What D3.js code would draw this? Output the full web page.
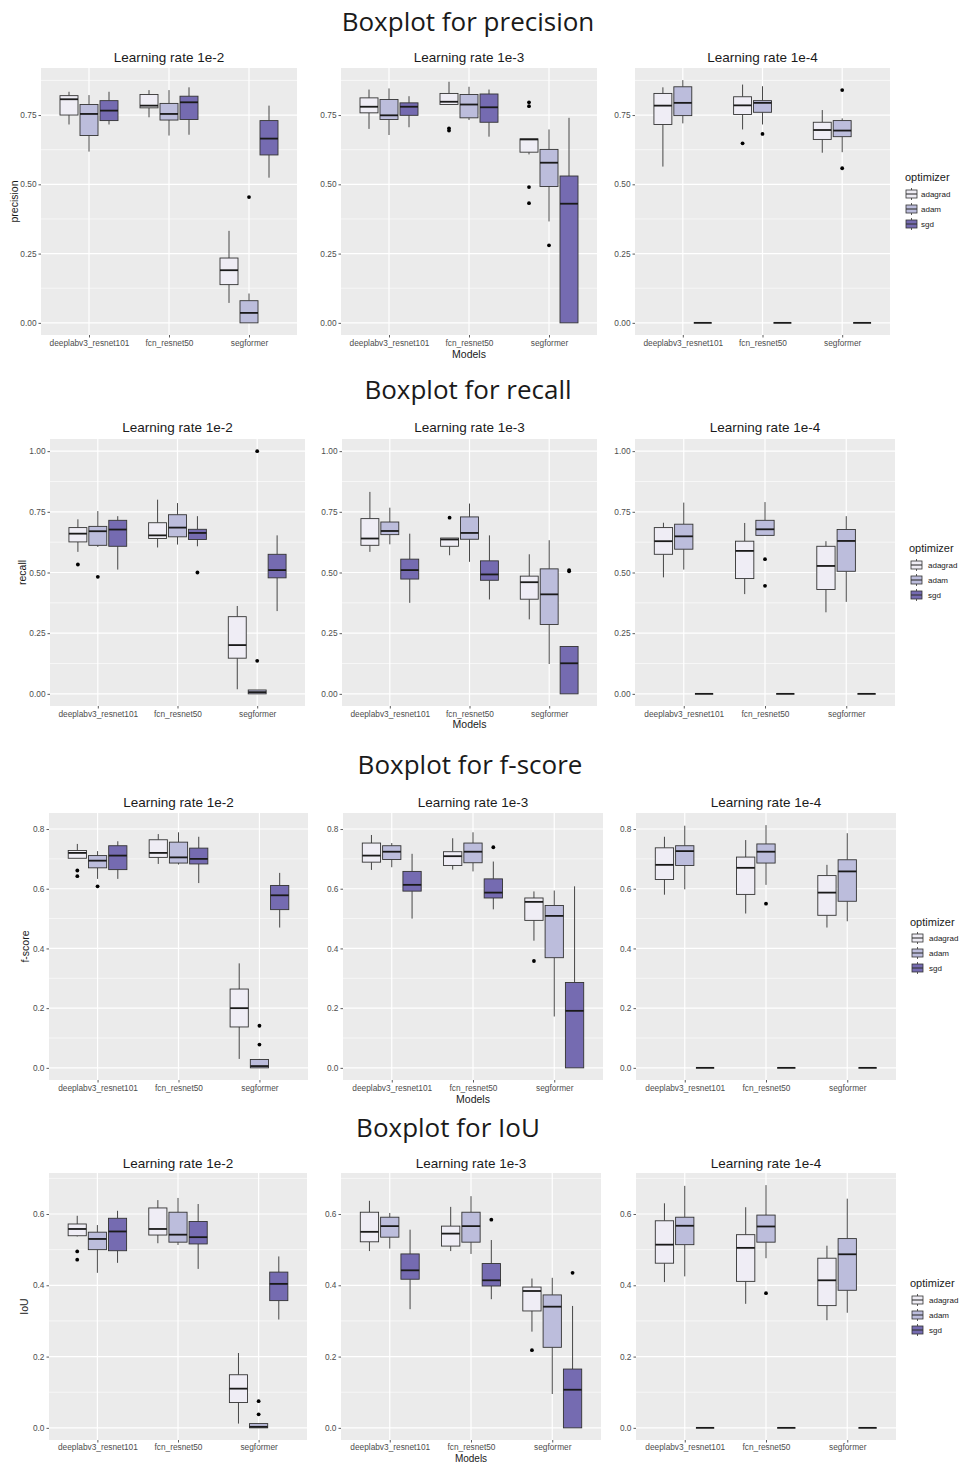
<!DOCTYPE html>
<html>
<head>
<meta charset="utf-8">
<script src="https://cdn.jsdelivr.net/npm/d3@7"></script>
<style>
  body { margin: 0; background: #ffffff; }
  text { font-family: "Liberation Sans", Arial, sans-serif; }
  .main-title { font-family: "Open Sans", "Liberation Sans", sans-serif; }
</style>
</head>
<body>
<svg id="chart" width="961" height="1463"></svg>
<script>
// ---- categories -------------------------------------------------------
const models = ["deeplabv3_resnet101", "fcn_resnet50", "segformer"];
const optimizers = ["adagrad", "adam", "sgd"];
const learningRates = ["1e-2", "1e-3", "1e-4"];
const optimizerColors = ["#efedf5", "#bcbddc", "#756bb1"];

// ---- y tick values per metric ----------------------------------------
const precisionTicks = [0, 0.25, 0.5, 0.75];
const recallTicks = [0, 0.25, 0.5, 0.75, 1.0];
const fscoreTicks = [0, 0.2, 0.4, 0.6, 0.8];
const iouTicks = [0, 0.2, 0.4, 0.6];

// ---- box summaries ---------------------------------------------------
// each entry: [lower whisker, Q1, median, Q3, upper whisker, outliers]
// nine entries per learning rate: model by model, optimizers adagrad/adam/sgd
const precision1e2 = [
  [0.716, 0.750, 0.807, 0.820, 0.834, []],
  [0.618, 0.676, 0.754, 0.788, 0.822, []],
  [0.716, 0.730, 0.766, 0.802, 0.834, []],
  [0.742, 0.776, 0.784, 0.824, 0.840, []],
  [0.676, 0.732, 0.754, 0.792, 0.840, []],
  [0.679, 0.734, 0.796, 0.818, 0.850, []],
  [0.072, 0.138, 0.190, 0.234, 0.332, []],
  [0.000, 0.000, 0.036, 0.080, 0.106, [0.454]],
  [0.524, 0.606, 0.665, 0.730, 0.784, []]
];
const precision1e3 = [
  [0.700, 0.758, 0.780, 0.812, 0.842, []],
  [0.678, 0.734, 0.749, 0.806, 0.846, []],
  [0.706, 0.749, 0.780, 0.794, 0.818, []],
  [0.788, 0.788, 0.798, 0.828, 0.870, [0.702, 0.694]],
  [0.732, 0.740, 0.788, 0.824, 0.852, []],
  [0.672, 0.724, 0.778, 0.826, 0.842, []],
  [0.608, 0.616, 0.662, 0.664, 0.664, [0.796, 0.782, 0.490, 0.432]],
  [0.366, 0.492, 0.578, 0.626, 0.698, [0.280]],
  [0.000, 0.000, 0.430, 0.530, 0.740, []]
];
const precision1e4 = [
  [0.564, 0.716, 0.784, 0.828, 0.850, []],
  [0.720, 0.748, 0.794, 0.852, 0.876, []],
  [0, 0, 0, 0, 0, []],
  [0.698, 0.752, 0.785, 0.816, 0.860, [0.648]],
  [0.716, 0.760, 0.794, 0.802, 0.854, [0.682]],
  [0, 0, 0, 0, 0, []],
  [0.614, 0.662, 0.696, 0.724, 0.768, []],
  [0.616, 0.672, 0.694, 0.730, 0.738, [0.840, 0.558]],
  [0, 0, 0, 0, 0, []]
];

const recall1e2 = [
  [0.585, 0.626, 0.660, 0.685, 0.719, [0.533]],
  [0.605, 0.612, 0.670, 0.690, 0.753, [0.482]],
  [0.512, 0.608, 0.677, 0.715, 0.732, []],
  [0.603, 0.640, 0.653, 0.705, 0.800, []],
  [0.615, 0.647, 0.685, 0.738, 0.786, []],
  [0.608, 0.636, 0.663, 0.678, 0.732, [0.500]],
  [0.019, 0.147, 0.201, 0.318, 0.362, []],
  [0.000, 0.000, 0.007, 0.016, 0.016, [1.000, 0.136]],
  [0.341, 0.478, 0.510, 0.575, 0.653, []]
];
const recall1e3 = [
  [0.585, 0.612, 0.640, 0.722, 0.832, []],
  [0.616, 0.656, 0.671, 0.708, 0.767, []],
  [0.375, 0.473, 0.510, 0.555, 0.660, []],
  [0.571, 0.608, 0.636, 0.642, 0.642, [0.726]],
  [0.544, 0.637, 0.663, 0.729, 0.784, []],
  [0.389, 0.468, 0.492, 0.548, 0.653, []],
  [0.307, 0.390, 0.460, 0.485, 0.575, []],
  [0.123, 0.286, 0.410, 0.515, 0.633, []],
  [0.000, 0.000, 0.126, 0.195, 0.195, [0.510, 0.505]]
];
const recall1e4 = [
  [0.480, 0.575, 0.629, 0.685, 0.705, []],
  [0.512, 0.596, 0.649, 0.699, 0.788, []],
  [0, 0, 0, 0, 0, []],
  [0.411, 0.475, 0.589, 0.629, 0.704, []],
  [0.653, 0.653, 0.678, 0.715, 0.790, [0.555, 0.445]],
  [0, 0, 0, 0, 0, []],
  [0.336, 0.430, 0.527, 0.608, 0.629, []],
  [0.379, 0.505, 0.630, 0.677, 0.732, []],
  [0, 0, 0, 0, 0, []]
];

const fscore1e2 = [
  [0.702, 0.702, 0.720, 0.728, 0.750, [0.661, 0.642]],
  [0.633, 0.670, 0.694, 0.711, 0.726, [0.608]],
  [0.633, 0.664, 0.711, 0.744, 0.759, []],
  [0.683, 0.705, 0.720, 0.764, 0.783, []],
  [0.681, 0.686, 0.705, 0.756, 0.789, []],
  [0.619, 0.683, 0.700, 0.736, 0.774, []],
  [0.030, 0.137, 0.200, 0.264, 0.350, []],
  [0.000, 0.000, 0.006, 0.028, 0.030, [0.141, 0.078]],
  [0.470, 0.530, 0.578, 0.611, 0.653, []]
];
const fscore1e3 = [
  [0.663, 0.689, 0.711, 0.753, 0.780, []],
  [0.672, 0.698, 0.724, 0.744, 0.753, []],
  [0.500, 0.592, 0.613, 0.658, 0.717, []],
  [0.664, 0.678, 0.709, 0.724, 0.769, []],
  [0.658, 0.687, 0.724, 0.753, 0.789, []],
  [0.531, 0.569, 0.587, 0.633, 0.691, [0.739]],
  [0.426, 0.494, 0.556, 0.569, 0.591, [0.358]],
  [0.172, 0.369, 0.509, 0.544, 0.594, []],
  [0.000, 0.000, 0.191, 0.286, 0.608, []]
];
const fscore1e4 = [
  [0.580, 0.631, 0.680, 0.737, 0.774, []],
  [0.598, 0.678, 0.726, 0.744, 0.811, []],
  [0, 0, 0, 0, 0, []],
  [0.517, 0.581, 0.670, 0.706, 0.763, []],
  [0.613, 0.686, 0.724, 0.750, 0.813, [0.550]],
  [0, 0, 0, 0, 0, []],
  [0.470, 0.511, 0.587, 0.644, 0.680, []],
  [0.491, 0.558, 0.658, 0.697, 0.786, []],
  [0, 0, 0, 0, 0, []]
];

const iou1e2 = [
  [0.537, 0.539, 0.558, 0.572, 0.595, [0.495, 0.472]],
  [0.435, 0.500, 0.530, 0.549, 0.569, []],
  [0.463, 0.497, 0.551, 0.588, 0.609, []],
  [0.518, 0.541, 0.558, 0.617, 0.639, []],
  [0.513, 0.521, 0.542, 0.605, 0.645, []],
  [0.446, 0.516, 0.535, 0.579, 0.628, []],
  [0.012, 0.071, 0.110, 0.149, 0.210, []],
  [0.000, 0.000, 0.003, 0.012, 0.012, [0.075, 0.038]],
  [0.304, 0.357, 0.404, 0.437, 0.481, []]
];
const iou1e3 = [
  [0.496, 0.522, 0.550, 0.605, 0.637, []],
  [0.503, 0.535, 0.566, 0.591, 0.603, []],
  [0.333, 0.417, 0.442, 0.488, 0.556, []],
  [0.496, 0.510, 0.545, 0.566, 0.620, []],
  [0.488, 0.521, 0.566, 0.605, 0.650, []],
  [0.361, 0.398, 0.414, 0.461, 0.527, [0.584]],
  [0.270, 0.328, 0.384, 0.395, 0.419, [0.218]],
  [0.095, 0.226, 0.340, 0.373, 0.421, []],
  [0.000, 0.000, 0.107, 0.165, 0.342, [0.435]]
];
const iou1e4 = [
  [0.409, 0.462, 0.514, 0.581, 0.630, []],
  [0.425, 0.514, 0.567, 0.591, 0.679, []],
  [0, 0, 0, 0, 0, []],
  [0.348, 0.411, 0.505, 0.542, 0.619, []],
  [0.476, 0.521, 0.565, 0.597, 0.681, [0.378]],
  [0, 0, 0, 0, 0, []],
  [0.302, 0.343, 0.414, 0.476, 0.511, []],
  [0.323, 0.386, 0.487, 0.531, 0.643, []],
  [0, 0, 0, 0, 0, []]
];

// ---- one figure row per metric ----------------------------------------
const rows = [
  { title: "Boxplot for precision", label: "precision", ticks: precisionTicks, fmt: ".2f",
    panels: [precision1e2, precision1e3, precision1e4],
    top: 68, bottom: 335, xs: [[41, 297], [341, 597], [635, 890]], tickPad: 3,
    titleX: 468, titleY: 22, stripY: 57, modelsY: 354, modelsSize: 10.5, ylabX: 14,
    legendX: 905, legendY: 177, keyX: 906, keyY0: 194, keyLabelX: 921 },
  { title: "Boxplot for recall", label: "recall", ticks: recallTicks, fmt: ".2f",
    panels: [recall1e2, recall1e3, recall1e4],
    top: 439, bottom: 706, xs: [[50, 305], [342, 597], [635, 895]], tickPad: 3,
    titleX: 468, titleY: 390, stripY: 427, modelsY: 724, modelsSize: 10.5, ylabX: 22,
    legendX: 909, legendY: 548, keyX: 911, keyY0: 565, keyLabelX: 928 },
  { title: "Boxplot for f-score", label: "f-score", ticks: fscoreTicks, fmt: ".1f",
    panels: [fscore1e2, fscore1e3, fscore1e4],
    top: 813, bottom: 1080, xs: [[49, 308], [343, 603], [636, 896]], tickPad: 3,
    titleX: 470, titleY: 765, stripY: 802, modelsY: 1099, modelsSize: 10.5, ylabX: 25,
    legendX: 910, legendY: 922, keyX: 912, keyY0: 938, keyLabelX: 929 },
  { title: "Boxplot for IoU", label: "IoU", ticks: iouTicks, fmt: ".1f",
    panels: [iou1e2, iou1e3, iou1e4],
    top: 1173, bottom: 1440, xs: [[49, 307], [341, 601], [636, 896]], tickPad: 2,
    titleX: 448, titleY: 1128, stripY: 1163, modelsY: 1458, modelsSize: 10, ylabX: 24,
    legendX: 910, legendY: 1283, keyX: 912, keyY0: 1300, keyLabelX: 929 }
];

const svg = d3.select("#chart");
const outline = "#333333";
const color = d3.scaleOrdinal().domain(optimizers).range(optimizerColors);

rows.forEach(row => {
  const g = svg.append("g");

  // shared y domain across the three panels, padded 5% like ggplot
  const all = [];
  row.panels.forEach(p => p.forEach(d => { all.push(d[0], d[4], ...d[5]); }));
  const lo = d3.min(all), hi = d3.max(all), pad = (hi - lo) * 0.05;
  const y = d3.scaleLinear().domain([lo - pad, hi + pad]).range([row.bottom, row.top]);
  const step = row.ticks[1] - row.ticks[0];
  const minor = d3.range(row.ticks[0] - step / 2, hi + pad, step).filter(v => v > lo - pad && v < hi + pad);
  const fmt = d3.format(row.fmt);

  g.append("text").attr("class", "main-title")
    .attr("x", row.titleX).attr("y", row.titleY).attr("dy", "0.35em")
    .attr("text-anchor", "middle").attr("font-size", 26).attr("fill", "#1a1a1a")
    .text(row.title);

  row.panels.forEach((stats, pi) => {
    const [x0, x1] = row.xs[pi];
    const x = d3.scalePoint().domain(models).range([x0, x1]).padding(0.6);
    const stepX = x.step();
    const dodge = d3.scaleBand().domain(optimizers)
      .range([-0.375 * stepX, 0.375 * stepX]).paddingInner(0.1).paddingOuter(0.05);
    const p = g.append("g");

    p.append("rect").attr("x", x0).attr("y", row.top)
      .attr("width", x1 - x0).attr("height", row.bottom - row.top).attr("fill", "#ebebeb");

    p.selectAll(".minor").data(minor).join("line")
      .attr("x1", x0).attr("x2", x1).attr("y1", d => y(d)).attr("y2", d => y(d))
      .attr("stroke", "#ffffff").attr("stroke-width", 0.6);
    p.selectAll(".major").data(row.ticks).join("line")
      .attr("x1", x0).attr("x2", x1).attr("y1", d => y(d)).attr("y2", d => y(d))
      .attr("stroke", "#ffffff").attr("stroke-width", 1.2);
    p.selectAll(".vmajor").data(models).join("line")
      .attr("x1", d => x(d)).attr("x2", d => x(d)).attr("y1", row.top).attr("y2", row.bottom)
      .attr("stroke", "#ffffff").attr("stroke-width", 1.2);

    // y axis
    const yAxis = d3.axisLeft(y).tickValues(row.ticks).tickFormat(fmt).tickSize(2.5).tickPadding(2);
    const ya = p.append("g").attr("transform", `translate(${x0},0)`).call(yAxis);
    ya.select(".domain").remove();
    ya.selectAll("line").attr("stroke", outline).attr("stroke-width", 0.8);
    ya.selectAll("text").attr("font-size", 8.3).attr("fill", "#4d4d4d")
      .style("font-family", "'Liberation Sans', Arial, sans-serif");

    // x axis
    const xAxis = d3.axisBottom(x).tickSize(2.5).tickPadding(row.tickPad);
    const xa = p.append("g").attr("transform", `translate(0,${row.bottom})`).call(xAxis);
    xa.select(".domain").remove();
    xa.selectAll("line").attr("stroke", outline).attr("stroke-width", 0.8);
    xa.selectAll("text").attr("font-size", 8.3).attr("fill", "#4d4d4d")
      .style("font-family", "'Liberation Sans', Arial, sans-serif");

    // boxes
    const boxes = [];
    models.forEach((m, mi) => optimizers.forEach((o, oi) => {
      const s = stats[mi * 3 + oi];
      boxes.push({ m, o, lo: s[0], q1: s[1], med: s[2], q3: s[3], hi: s[4], out: s[5] });
    }));
    const bw = dodge.bandwidth();
    const bx = d => x(d.m) + dodge(d.o);
    const bc = d => bx(d) + bw / 2;

    const bg = p.selectAll(".box").data(boxes).join("g");
    bg.append("line").attr("x1", bc).attr("x2", bc)
      .attr("y1", d => y(d.q3)).attr("y2", d => y(d.hi))
      .attr("stroke", outline).attr("stroke-width", 0.9);
    bg.append("line").attr("x1", bc).attr("x2", bc)
      .attr("y1", d => y(d.q1)).attr("y2", d => y(d.lo))
      .attr("stroke", outline).attr("stroke-width", 0.9);
    bg.append("rect").attr("x", bx).attr("width", bw)
      .attr("y", d => y(d.q3)).attr("height", d => y(d.q1) - y(d.q3))
      .attr("fill", d => color(d.o)).attr("stroke", outline).attr("stroke-width", 0.9);
    bg.append("line").attr("x1", bx).attr("x2", d => bx(d) + bw)
      .attr("y1", d => y(d.med)).attr("y2", d => y(d.med))
      .attr("stroke", "#1a1a1a").attr("stroke-width", 1.8);
    bg.selectAll("circle").data(d => d.out.map(v => ({ v, cx: bc(d) }))).join("circle")
      .attr("cx", d => d.cx).attr("cy", d => y(d.v)).attr("r", 1.9).attr("fill", "#000000");

    // facet title
    g.append("text").attr("x", (x0 + x1) / 2).attr("y", row.stripY).attr("dy", "0.35em")
      .attr("text-anchor", "middle").attr("font-size", 13.5).attr("fill", "#1a1a1a")
      .text("Learning rate " + learningRates[pi]);

    if (pi === 1) {
      g.append("text").attr("x", (x0 + x1) / 2).attr("y", row.modelsY).attr("dy", "0.35em")
        .attr("text-anchor", "middle").attr("font-size", row.modelsSize).attr("fill", "#1a1a1a")
        .text("Models");
    }
  });

  // y axis title
  const cy = (row.top + row.bottom) / 2;
  g.append("text").attr("transform", `translate(${row.ylabX},${cy}) rotate(-90)`)
    .attr("dy", "0.35em").attr("text-anchor", "middle").attr("font-size", 10.5)
    .attr("fill", "#1a1a1a").text(row.label);

  // legend
  const lg = g.append("g");
  lg.append("text").attr("x", row.legendX).attr("y", row.legendY).attr("dy", "0.35em")
    .attr("font-size", 11).attr("fill", "#1a1a1a").text("optimizer");
  optimizers.forEach((o, i) => {
    const ky = row.keyY0 + i * 15;
    const kx = row.keyX;
    lg.append("line").attr("x1", kx + 5.5).attr("x2", kx + 5.5).attr("y1", ky - 6).attr("y2", ky + 6)
      .attr("stroke", outline).attr("stroke-width", 0.8);
    lg.append("rect").attr("x", kx).attr("y", ky - 4).attr("width", 11).attr("height", 8)
      .attr("fill", color(o)).attr("stroke", outline).attr("stroke-width", 0.8);
    lg.append("line").attr("x1", kx).attr("x2", kx + 11).attr("y1", ky).attr("y2", ky)
      .attr("stroke", outline).attr("stroke-width", 1.1);
    lg.append("text").attr("x", row.keyLabelX).attr("y", ky).attr("dy", "0.35em")
      .attr("font-size", 8).attr("fill", "#1a1a1a").text(o);
  });
});
</script>
</body>
</html>
